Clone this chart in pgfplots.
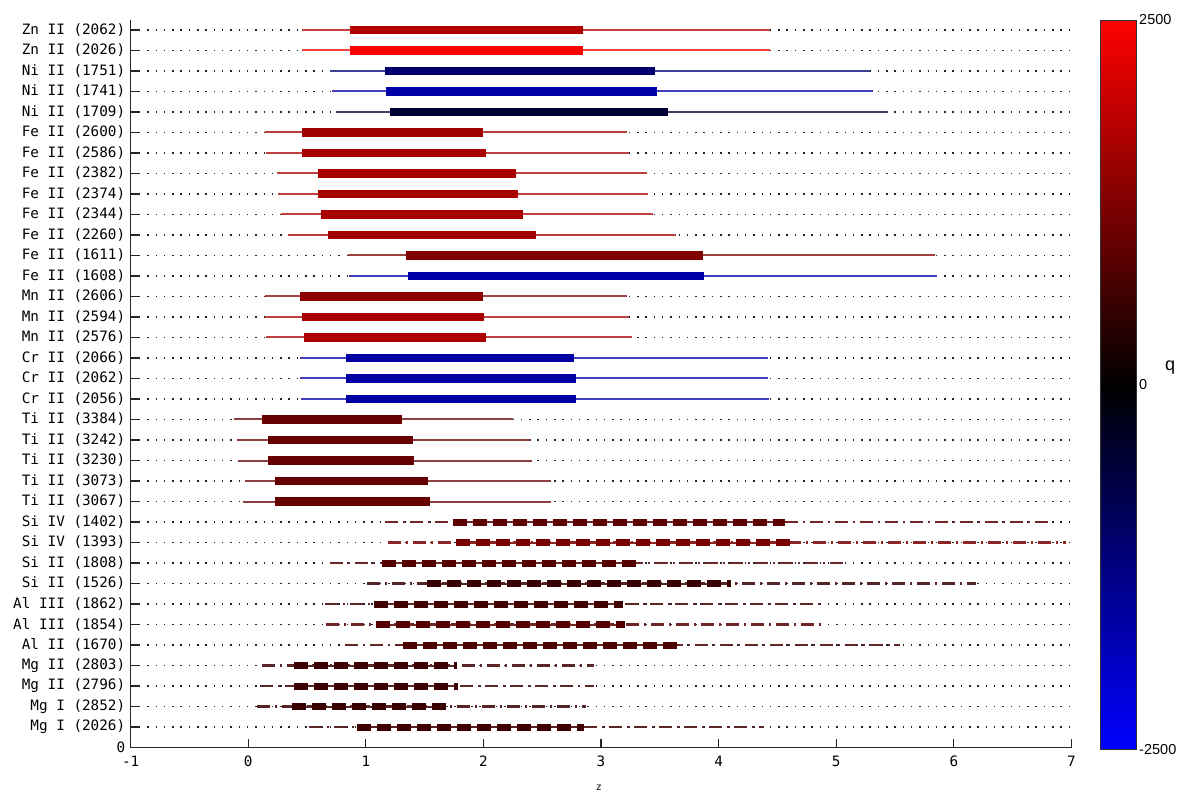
\documentclass[border=0pt]{standalone}
\usepackage{fontspec}
\usepackage{pgfplots}
\pgfplotsset{compat=1.18}
\setmainfont{Liberation Sans}
\newfontfamily\monof{DejaVu Sans Mono}
\newcommand{\tickfont}{\monof\fontsize{14.3}{16}\selectfont}
\pgfplotsset{
  rthin/.style={line width=2pt, line cap=butt},
  rthick/.style={line width=8.5pt, line cap=butt},
  rdd/.style={line width=2.2pt, line cap=butt, dash pattern=on 13pt off 5pt on 2pt off 5pt},
  rdash/.style={line width=7pt, line cap=butt, dash pattern=on 14pt off 6pt},
}
\newcommand{\srow}[6]{%
  \addplot[rthin, color=#6!75!white] coordinates {(#2,#1) (#3,#1)};
  \addplot[rthick, color=#6] coordinates {(#4,#1) (#5,#1)};}
\newcommand{\drow}[6]{%
  \addplot[rdd, color=#6!85!white] coordinates {(#2,#1) (#3,#1)};
  \addplot[rthin, color=#6!85!white] coordinates {(#4,#1) (#5,#1)};
  \addplot[rdash, color=#6] coordinates {(#4,#1) (#5,#1)};}
\begin{document}
\begin{tikzpicture}
\useasboundingbox (-130.7pt,-45.5pt) rectangle (1054.3pt,747.5pt);
\begin{axis}[
  scale only axis, width=940.7pt, height=727.75pt,
  xmin=-1, xmax=7, ymin=0, ymax=35.5,
  axis x line*=bottom, axis y line*=left,
  axis line style={line width=1.4pt, black!85},
  xtick={-1,0,1,2,3,4,5,6,7},
  ytick={0,1,2,3,4,5,6,7,8,9,10,11,12,13,14,15,16,17,18,19,20,21,22,23,24,25,26,27,28,29,30,31,32,33,34,35},
  yticklabels={0,Mg I (2026),Mg I (2852),Mg II (2796),Mg II (2803),Al II (1670),Al III (1854),Al III (1862),Si II (1526),Si II (1808),Si IV (1393),Si IV (1402),Ti II (3067),Ti II (3073),Ti II (3230),Ti II (3242),Ti II (3384),Cr II (2056),Cr II (2062),Cr II (2066),Mn II (2576),Mn II (2594),Mn II (2606),Fe II (1608),Fe II (1611),Fe II (2260),Fe II (2344),Fe II (2374),Fe II (2382),Fe II (2586),Fe II (2600),Ni II (1709),Ni II (1741),Ni II (1751),Zn II (2026),Zn II (2062)},
  tick align=inside, major tick length=9pt,
  tick style={line width=1.2pt, black!85},
  ymajorgrids, grid style={black!85, line width=1.5pt, dash pattern=on 1.5pt off 6.8pt},
  tick label style={font=\tickfont},
  xticklabel style={yshift=-4.7pt},
  yticklabel style={xshift=-2pt},
  /pgf/number format/assume math mode=true,
  xlabel={z}, xlabel style={font=\monof\fontsize{10}{11}\selectfont, at={(axis description cs:0.4978,0)}, anchor=center, yshift=-40.5pt},
  colormap={bkr}{rgb255=(0,0,255) rgb255=(0,0,0) rgb255=(255,0,0)},
  point meta min=-2500, point meta max=2500,
  colorbar,
  colorbar/width=36pt,
  colorbar style={
    at={(parent axis.south east)}, anchor=south west,
    xshift=20.6pt, yshift=-2pt,
    scale only axis, height=729.5pt,
    ytick={-2500,0,2500}, yticklabel pos=right,
    major tick length=0pt,
    axis line style={black!80, line width=0.8pt},
    yticklabel style={font=\fontsize{14.5}{16}\selectfont, inner sep=0pt, xshift=2.5pt},
    /pgf/number format/assume math mode=true,
    /pgf/number format/1000 sep={},
  },
]
\srow{35}{0.457}{4.436}{0.865}{2.846}{red!70!black}
\srow{34}{0.457}{4.436}{0.865}{2.846}{red}
\srow{33}{0.695}{5.287}{1.162}{3.458}{blue!43!black}
\srow{32}{0.712}{5.316}{1.171}{3.480}{blue!65!black}
\srow{31}{0.746}{5.440}{1.205}{3.569}{blue!20!black}
\srow{30}{0.142}{3.220}{0.457}{1.996}{red!63!black}
\srow{29}{0.151}{3.237}{0.457}{2.021}{red!66!black}
\srow{28}{0.244}{3.390}{0.593}{2.276}{red!67!black}
\srow{27}{0.253}{3.399}{0.593}{2.293}{red!66!black}
\srow{26}{0.278}{3.441}{0.618}{2.336}{red!66!black}
\srow{25}{0.338}{3.637}{0.678}{2.446}{red!63!black}
\srow{24}{0.848}{5.839}{1.341}{3.867}{red!50!black}
\srow{23}{0.856}{5.856}{1.358}{3.875}{blue!67!black}
\srow{22}{0.142}{3.220}{0.440}{1.996}{red!55!black}
\srow{21}{0.142}{3.237}{0.457}{2.004}{red!66!black}
\srow{20}{0.151}{3.263}{0.474}{2.021}{red!68!black}
\srow{19}{0.440}{4.419}{0.831}{2.770}{blue!64!black}
\srow{18}{0.440}{4.419}{0.831}{2.787}{blue!64!black}
\srow{17}{0.448}{4.428}{0.831}{2.787}{blue!64!black}
\srow{16}{-0.122}{2.251}{0.117}{1.307}{red!40!black}
\srow{15}{-0.096}{2.395}{0.168}{1.401}{red!40!black}
\srow{14}{-0.088}{2.412}{0.168}{1.409}{red!40!black}
\srow{13}{-0.028}{2.574}{0.227}{1.528}{red!40!black}
\srow{12}{-0.045}{2.574}{0.227}{1.545}{red!40!black}
\drow{11}{1.162}{6.826}{1.741}{4.564}{red!36!black}
\drow{10}{1.188}{6.953}{1.767}{4.607}{red!47!black}
\drow{9}{0.695}{5.066}{1.137}{3.297}{red!33!black}
\drow{8}{1.009}{6.188}{1.520}{4.109}{red!22!black}
\drow{7}{0.652}{4.858}{1.069}{3.186}{red!25!black}
\drow{6}{0.661}{4.870}{1.086}{3.203}{red!33!black}
\drow{5}{0.822}{5.542}{1.315}{3.654}{red!29!black}
\drow{4}{0.117}{2.940}{0.389}{1.775}{red!24!black}
\drow{3}{0.100}{2.940}{0.389}{1.783}{red!24!black}
\drow{2}{0.074}{2.872}{0.372}{1.681}{red!22!black}
\drow{1}{0.516}{4.385}{0.924}{2.855}{red!24!black}
\end{axis}
\node[font=\fontsize{18}{20}\selectfont] at (1039.3pt,379.5pt) {q};
\end{tikzpicture}
\end{document}
